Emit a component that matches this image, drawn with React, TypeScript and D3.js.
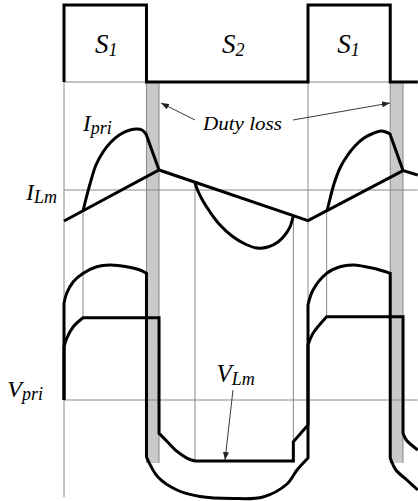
import React from "react";
import * as d3 from "d3";

const W = 418;
const H = 501;

// Time axis in arbitrary units: one switching period = 20
const T_END = 29;

// Gate drive of S1 (0 = off, 1 = on)
const gatePts: [number, number][] = [
  [0, 0], [0, 1], [6.76, 1], [6.76, 0], [20, 0], [20, 1], [26.74, 1], [26.74, 0], [29, 0],
];

// Magnetizing current I_Lm (triangular)
const ilmPts: [number, number][] = [[0, -1.55], [7.79, 1.0], [20, -1.53], [27.79, 0.97], [29, 0.75]];

// Primary current I_pri, where it departs from I_Lm
const ipriLobe1: [number, number][] = [
  [1.56, -1.05], [1.8, -0.45], [2.13, 0.3], [2.62, 1.25], [3.2, 1.9], [3.85, 2.4],
  [4.59, 2.78], [5.41, 3.0], [5.98, 3.05], [6.39, 3.0], [6.72, 2.8],
];
const ipriFall1: [number, number][] = [[6.72, 2.8], [7.79, 1.0]];
const ipriDip: [number, number][] = [
  [10.74, 0.35], [10.98, -0.05], [11.39, -0.55], [11.97, -1.1], [12.79, -1.75], [13.77, -2.3],
  [14.84, -2.7], [15.82, -2.9], [16.72, -2.85], [17.54, -2.6], [18.11, -2.25], [18.52, -1.85], [18.77, -1.35],
];
const ipriLobe2: [number, number][] = [
  [21.56, -1.05], [21.8, -0.45], [22.13, 0.3], [22.62, 1.1], [23.2, 1.7], [23.85, 2.2],
  [24.59, 2.6], [25.41, 2.85], [25.98, 2.95], [26.39, 2.9], [26.72, 2.8],
];
const ipriFall2: [number, number][] = [[26.72, 2.8], [27.79, 0.97]];

// Primary voltage V_pri (outer trace)
const vpriPieces: { smooth: boolean; pts: [number, number][] }[] = [
  { smooth: false, pts: [[0, 0], [0, 9.67]] },
  { smooth: true, pts: [[0, 9.67], [0.22, 10.67], [0.76, 11.83], [1.58, 12.67], [2.68, 13.33], [3.77, 13.5], [5.14, 13.33], [6.23, 13.0], [6.76, 12.67]] },
  { smooth: false, pts: [[6.76, 12.67], [6.76, -5.7]] },
  { smooth: true, pts: [[6.76, -5.7], [7.7, -7.7], [9.26, -9.0], [11.15, -9.65], [13.85, -9.85], [16.31, -9.7], [18.28, -8.4], [19.1, -7.0], [20, -5.8]] },
  { smooth: false, pts: [[20, -5.8], [20, 9.5]] },
  { smooth: true, pts: [[20, 9.5], [20.41, 11.0], [21.53, 12.67], [22.62, 13.33], [23.71, 13.5], [25.35, 13.17], [26.74, 12.67]] },
  { smooth: false, pts: [[26.74, 12.67], [26.74, -5.8]] },
  { smooth: true, pts: [[26.74, -5.8], [27.21, -7.0], [28.11, -8.0], [29, -9.0]] },
];

// Magnetizing voltage V_Lm (inner trace)
const vlmPieces: { smooth: boolean; pts: [number, number][] }[] = [
  { smooth: false, pts: [[0, 0], [0, 5.33]] },
  { smooth: true, pts: [[0, 5.33], [0.22, 6.17], [0.76, 7.33], [1.56, 8.23]] },
  { smooth: false, pts: [[1.56, 8.23], [7.79, 8.23], [7.79, -3.33]] },
  { smooth: true, pts: [[7.79, -3.33], [8.47, -4.17], [9.29, -5.17], [10.11, -5.83], [10.74, -6.1]] },
  { smooth: false, pts: [[10.74, -6.1], [18.8, -6.1], [18.8, -4.17], [20, -2.5], [20, 5.5]] },
  { smooth: true, pts: [[20, 5.5], [20.41, 6.67], [21.53, 8.33]] },
  { smooth: false, pts: [[21.53, 8.33], [27.79, 8.33], [27.79, -3.33]] },
  { smooth: true, pts: [[27.79, -3.33], [28.06, -4.0], [29, -5.0]] },
];

// Duty-loss intervals (S1 turn-off until I_pri meets I_Lm)
const dutyLoss: [number, number][] = [[6.76, 7.79], [26.74, 27.79]];

// Thin vertical guides: time, start (scale, value), end (scale, value)
type Sc = "g" | "i" | "v";
const guides: { t: number; from: [Sc, number]; to: [Sc, number] }[] = [
  { t: 0, from: ["g", 0], to: ["v", -9.7] },
  { t: 1.56, from: ["i", -1.04], to: ["v", 8.23] },
  { t: 10.74, from: ["i", 0.4], to: ["v", -6.1] },
  { t: 18.8, from: ["i", -1.3], to: ["v", -4.17] },
  { t: 20, from: ["g", 0], to: ["v", 0] },
  { t: 21.53, from: ["i", -1.04], to: ["v", 8.33] },
];

export default function App() {
  const x = d3.scaleLinear().domain([0, T_END]).range([64, 64 + T_END * 12.2]);
  const yG = d3.scaleLinear().domain([0, 1]).range([82, 5]);
  const yI = d3.scaleLinear().domain([-3, 3]).range([250, 130]);
  const yV = d3.scaleLinear().domain([-10, 14]).range([500, 260]);
  const ys: Record<Sc, d3.ScaleLinear<number, number>> = { g: yG, i: yI, v: yV };

  const mk = (y: d3.ScaleLinear<number, number>, smooth: boolean) =>
    d3
      .line<[number, number]>()
      .x((d) => x(d[0]))
      .y((d) => y(d[1]))
      .curve(smooth ? d3.curveCatmullRom.alpha(0.5) : d3.curveLinear);

  const joined = (pieces: { smooth: boolean; pts: [number, number][] }[], y: d3.ScaleLinear<number, number>) =>
    pieces
      .map((p, i) => {
        const d = mk(y, p.smooth)(p.pts) as string;
        return i === 0 ? d : "L" + d.slice(1);
      })
      .join("");

  const thick = { fill: "none", stroke: "#000", strokeWidth: 3, strokeLinejoin: "miter" as const };
  const thin = { stroke: "#888", strokeWidth: 1 };
  const font = "'Liberation Serif', 'Times New Roman', serif";

  const label = (main: string, sub: string, px: number, py: number, size: number, subSize: number, anchor: "start" | "end" = "start", key?: string) => (
    <text key={key} x={px} y={py} fontFamily={font} fontStyle="italic" fontSize={size} textAnchor={anchor} fill="#000">
      {main}
      <tspan fontSize={subSize} dy={3}>{sub}</tspan>
    </text>
  );

  return (
    <svg width={W} height={H} style={{ position: "fixed", left: 0, top: 0, background: "#fff" }}>
      <defs>
        <marker id="ah" markerUnits="userSpaceOnUse" markerWidth={9} markerHeight={7} refX={8} refY={3.5} orient="auto">
          <path d="M0,0.5 L8,3.5 L0,6.5 Z" fill="#222" />
        </marker>
      </defs>
      <rect width={W} height={H} fill="#fff" />

      {/* duty-loss bands */}
      {dutyLoss.map(([a, b], i) => (
        <g key={"b" + i}>
          <rect x={x(a)} y={yG(0)} width={x(b) - x(a)} height={yV(-6.3) - yG(0)} fill="#c9c9c9" />
          <line x1={x(a)} x2={x(a)} y1={yG(0)} y2={yV(-6.3)} {...thin} />
          <line x1={x(b)} x2={x(b)} y1={yG(0)} y2={yV(-6.3)} {...thin} />
        </g>
      ))}

      {/* reference levels */}
      <line x1={x(0)} x2={x(T_END)} y1={yG(0)} y2={yG(0)} {...thin} />
      <line x1={x(0)} x2={x(T_END)} y1={yI(0)} y2={yI(0)} {...thin} />
      <line x1={x(0)} x2={x(T_END)} y1={yV(0)} y2={yV(0)} {...thin} />
      {guides.map((g, i) => (
        <line key={"g" + i} x1={x(g.t)} x2={x(g.t)} y1={ys[g.from[0]](g.from[1])} y2={ys[g.to[0]](g.to[1])} {...thin} />
      ))}

      {/* gate signal */}
      <path d={mk(yG, false)(gatePts) as string} {...thick} />

      {/* currents */}
      <path d={mk(yI, false)(ilmPts) as string} {...thick} />
      <path d={joined([{ smooth: true, pts: ipriLobe1 }, { smooth: false, pts: ipriFall1 }], yI)} {...thick} />
      <path d={mk(yI, true)(ipriDip) as string} {...thick} />
      <path d={joined([{ smooth: true, pts: ipriLobe2 }, { smooth: false, pts: ipriFall2 }], yI)} {...thick} />

      {/* voltages */}
      <path d={joined(vpriPieces, yV)} {...thick} />
      <path d={joined(vlmPieces, yV)} {...thick} />

      {/* annotations */}
      <line x1={x(10.74)} y1={yI(3.5)} x2={x(7.95)} y2={yI(4.35)} stroke="#222" strokeWidth={0.9} markerEnd="url(#ah)" />
      <line x1={x(18.77)} y1={yI(3.5)} x2={x(26.72)} y2={yI(4.35)} stroke="#222" strokeWidth={0.9} markerEnd="url(#ah)" />
      <text x={x(11.39)} y={yI(3.0)} fontFamily={font} fontStyle="italic" fontSize={18} textLength={79} lengthAdjust="spacingAndGlyphs">
        Duty loss
      </text>
      <line x1={x(13.85)} y1={yV(1.0)} x2={x(13.2)} y2={yV(-6.0)} stroke="#222" strokeWidth={0.9} markerEnd="url(#ah)" />

      {label("S", "1", x(2.54), yG(0.377), 27, 18, "start", "s1a")}
      {label("S", "2", x(12.95), yG(0.377), 27, 18, "start", "s2")}
      {label("S", "1", x(22.4), yG(0.377), 27, 18, "start", "s1b")}
      {label("I", "pri", x(1.56), yI(2.95), 23, 18)}
      {label("I", "Lm", x(-0.57), yI(-0.5), 23, 18, "end")}
      {label("V", "pri", x(-1.72), yV(0.3), 24, 18, "end")}
      {label("V", "Lm", x(12.5), yV(1.83), 25, 18)}
    </svg>
  );
}
